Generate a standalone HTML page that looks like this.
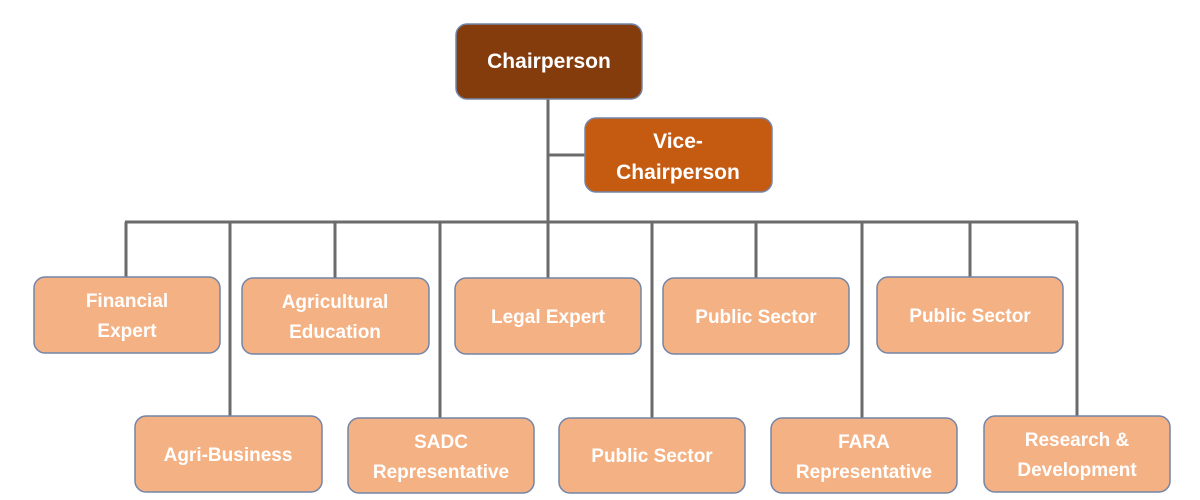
<!DOCTYPE html>
<html><head><meta charset="utf-8"><style>
html,body{margin:0;padding:0;background:#fff;width:1200px;height:500px;overflow:hidden}
svg text{font-family:"Liberation Sans",sans-serif;fill:#fff;font-size:19px;text-anchor:middle;font-stretch:condensed}
</style></head><body>
<svg width="1200" height="500" viewBox="0 0 1200 500">
<g stroke="#6b6b6b" stroke-width="3" fill="none">
<line x1="548" y1="99" x2="548" y2="223"/>
<line x1="548" y1="155" x2="586" y2="155"/>
<line x1="125" y1="222" x2="1078" y2="222"/>
<line x1="126" y1="222" x2="126" y2="278"/>
<line x1="230" y1="222" x2="230" y2="417"/>
<line x1="335" y1="222" x2="335" y2="279"/>
<line x1="440" y1="222" x2="440" y2="419"/>
<line x1="548" y1="222" x2="548" y2="279"/>
<line x1="652" y1="222" x2="652" y2="419"/>
<line x1="756" y1="222" x2="756" y2="279"/>
<line x1="862" y1="222" x2="862" y2="419"/>
<line x1="970" y1="222" x2="970" y2="278"/>
<line x1="1077" y1="222" x2="1077" y2="417"/>
</g>
<g stroke="#7385a8" stroke-width="1.5">
<rect x="456" y="24" width="186" height="75" rx="11" fill="#843c0c"/>
<rect x="585" y="118" width="187" height="74" rx="11" fill="#c55a11"/>
<g fill="#f4b183">
<rect x="34" y="277" width="186" height="76" rx="11"/>
<rect x="242" y="278" width="187" height="76" rx="11"/>
<rect x="455" y="278" width="186" height="76" rx="11"/>
<rect x="663" y="278" width="186" height="76" rx="11"/>
<rect x="877" y="277" width="186" height="76" rx="11"/>
<rect x="135" y="416" width="187" height="76" rx="11"/>
<rect x="348" y="418" width="186" height="75" rx="11"/>
<rect x="559" y="418" width="186" height="75" rx="11"/>
<rect x="771" y="418" width="186" height="75" rx="11"/>
<rect x="984" y="416" width="186" height="76" rx="11"/>
</g></g>
<g font-weight="bold">
<text x="549" y="68" style="font-size:21px">Chairperson</text>
<text x="678" y="148" style="font-size:21px">Vice-</text>
<text x="678" y="179" style="font-size:21px">Chairperson</text>
<text x="127" y="307">Financial</text>
<text x="127" y="337">Expert</text>
<text x="335" y="308">Agricultural</text>
<text x="335" y="338">Education</text>
<text x="548" y="323">Legal Expert</text>
<text x="756" y="323">Public Sector</text>
<text x="970" y="322">Public Sector</text>
<text x="228" y="461">Agri-Business</text>
<text x="441" y="448">SADC</text>
<text x="441" y="478">Representative</text>
<text x="652" y="462">Public Sector</text>
<text x="864" y="448">FARA</text>
<text x="864" y="478">Representative</text>
<text x="1077" y="446">Research &amp;</text>
<text x="1077" y="476">Development</text>
</g>
</svg>
</body></html>
